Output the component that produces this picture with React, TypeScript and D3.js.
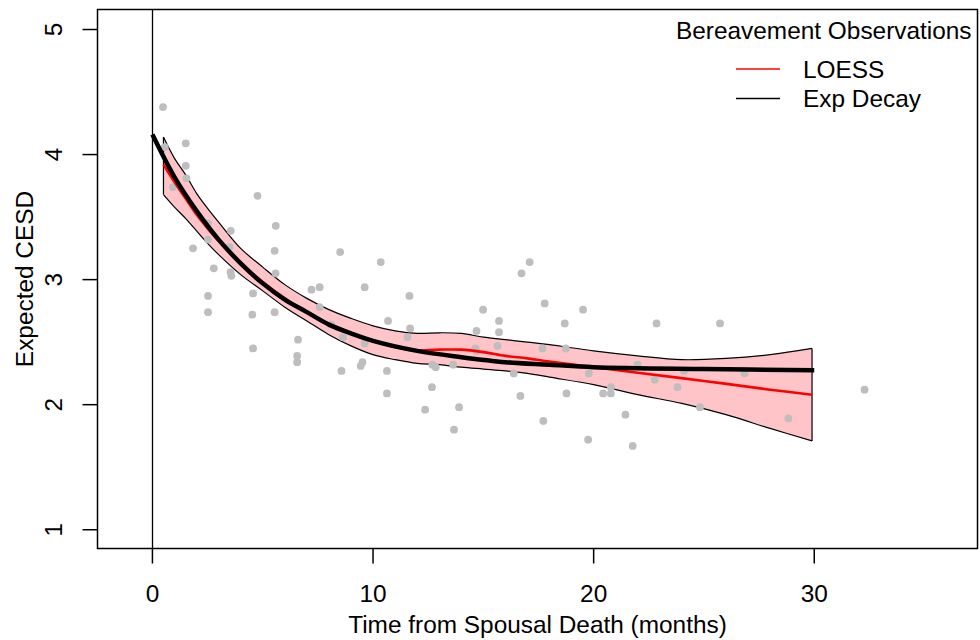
import React from "react";
import * as d3 from "d3";

// Observations (months since spousal death, CESD)
const obsTime = [
  0.48, 1.51, 1.51, 1.54, 0.93, 4.76, 5.59, 2.52, 2.52, 3.55, 3.5, 1.84, 5.54, 2.78, 3.54, 3.58, 5.58, 4.56,
  2.52, 2.52, 4.53, 5.54, 7.21, 7.58, 7.58, 6.6, 4.56, 6.56, 6.56, 8.51, 10.35, 9.62, 11.65, 16.73, 17.1,
  14.99, 15.71, 15.71, 10.68, 11.68, 11.56, 14.69, 17.78, 8.64, 9.62, 14.64, 14.69, 15.64, 17.68, 9.52, 9.44,
  8.57, 10.63, 12.69, 12.84, 13.63, 16.38, 10.63, 12.67, 16.68, 12.36, 13.9, 13.67, 17.72, 19.52, 18.69,
  22.85, 25.73, 18.74, 21.99, 19.78, 18.77, 20.43, 20.78, 20.78, 22.77, 24.1, 23.8, 26.84, 24.82, 21.44,
  19.75, 21.77, 28.83, 32.28, 8.11, 0.56,
];
const obsCesd = [
  4.38, 4.09, 3.91, 3.81, 3.74, 3.67, 3.43, 3.45, 3.32, 3.39, 3.26, 3.25, 3.23, 3.09, 3.06, 3.03, 3.05, 2.89,
  2.87, 2.74, 2.72, 2.74, 2.92, 2.94, 2.78, 2.52, 2.45, 2.39, 2.34, 3.22, 3.14, 2.94, 2.87, 3.05, 3.14,
  2.76, 2.67, 2.58, 2.67, 2.61, 2.54, 2.59, 2.81, 2.54, 2.49, 2.45, 2.43, 2.47, 2.45, 2.34, 2.31,
  2.27, 2.27, 2.32, 2.3, 2.32, 2.25, 2.09, 2.14, 2.07, 1.96, 1.98, 1.8, 1.87, 2.76, 2.65,
  2.65, 2.65, 2.45, 2.32, 2.25, 2.09, 2.09, 2.09, 2.14, 2.2, 2.27, 2.14, 2.25, 1.98, 1.92,
  1.72, 1.67, 1.89, 2.12, 2.64, 4.06,
];

// LOESS fit and its confidence band
const loessTime = [0.5, 1, 1.5, 2, 2.5, 3, 4, 5, 6, 7, 8, 9, 10, 11, 12, 13, 14, 15, 16, 17, 18, 20, 22, 25, 28, 29.9];
const loessFit = [3.92, 3.78, 3.65, 3.52, 3.41, 3.31, 3.13, 2.98, 2.85, 2.74, 2.645, 2.57, 2.51, 2.46, 2.435, 2.44, 2.44, 2.42, 2.39, 2.37, 2.345, 2.3, 2.255, 2.19, 2.12, 2.08];
const bandTime = [0.5, 1, 1.5, 2, 2.5, 3, 4, 5, 6, 7, 8, 9, 10, 11, 12, 13, 14, 15, 16, 17, 18, 20, 22, 24, 26, 28, 29.9];
const bandUpper = [4.14, 3.97, 3.84, 3.69, 3.57, 3.46, 3.25, 3.1, 2.96, 2.85, 2.76, 2.69, 2.63, 2.59, 2.57, 2.575, 2.57, 2.54, 2.52, 2.5, 2.48, 2.43, 2.39, 2.36, 2.37, 2.4, 2.45];
const bandLower = [3.68, 3.58, 3.49, 3.39, 3.29, 3.2, 3.04, 2.91, 2.78, 2.67, 2.56, 2.47, 2.4, 2.36, 2.33, 2.32, 2.3, 2.285, 2.27, 2.25, 2.22, 2.16, 2.08, 2.01, 1.92, 1.81, 1.71];

// Exponential decay fit
const expTime = [0, 1, 2, 3, 4, 5, 6, 7, 8, 9, 10, 12, 14, 16, 18, 20, 25, 30];
const expFit = [4.16, 3.82, 3.55, 3.32, 3.13, 2.97, 2.84, 2.74, 2.64, 2.57, 2.51, 2.43, 2.38, 2.34, 2.32, 2.3, 2.285, 2.276];

const xTicks = [0, 10, 20, 30];
const yTicks = [1, 2, 3, 4, 5];
const legendTitle = "Bereavement Observations";
const legendItems = ["LOESS", "Exp Decay"];
const legendColors = ["#ff0000", "#000000"];

const W = 980;
const H = 640;
const L = 97.5, R = 977.5, T = 9.5, B = 548.5;
const FONT = "'Liberation Sans', Arial, Helvetica, sans-serif";
const FS = 24.4;

export default function App() {
  const x = d3.scaleLinear().domain([-2.49, 37.4]).range([L, R]);
  const y = d3.scaleLinear().domain([0.85, 5.16]).range([B, T]);

  const line = d3
    .line<[number, number]>()
    .x((d) => x(d[0]))
    .y((d) => y(d[1]))
    .curve(d3.curveCatmullRom.alpha(0.5));

  const area = d3
    .area<number>()
    .x((_, i) => x(bandTime[i]))
    .y0((_, i) => y(bandLower[i]))
    .y1((_, i) => y(bandUpper[i]))
    .curve(d3.curveCatmullRom.alpha(0.5));

  const upperPts: [number, number][] = bandTime.map((t, i) => [t, bandUpper[i]]);
  const lowerPts: [number, number][] = bandTime.map((t, i) => [t, bandLower[i]]);
  const loessPts: [number, number][] = loessTime.map((t, i) => [t, loessFit[i]]);
  const expPts: [number, number][] = expTime.map((t, i) => [t, expFit[i]]);

  const lastT = bandTime[bandTime.length - 1];
  const firstT = bandTime[0];

  return (
    <svg width={W} height={H} style={{ display: "block", position: "absolute", left: 0, top: 0 }} fontFamily={FONT}>
      <rect x={0} y={0} width={W} height={H} fill="#ffffff" />
      <defs>
        <clipPath id="plotclip">
          <rect x={L} y={T} width={R - L} height={B - T} />
        </clipPath>
      </defs>
      <g clipPath="url(#plotclip)">
        {/* vertical reference line at 0 */}
        <line x1={Math.round(x(0)) + 0.5} x2={Math.round(x(0)) + 0.5} y1={T} y2={B} stroke="#000" strokeWidth={1.3} />
        {/* confidence band */}
        <path d={area(bandTime) || ""} fill="#ffc4c8" stroke="none" />
        <path d={line(upperPts) || ""} fill="none" stroke="#000" strokeWidth={1.2} />
        <path d={line(lowerPts) || ""} fill="none" stroke="#000" strokeWidth={1.2} />
        <line x1={x(firstT)} x2={x(firstT)} y1={y(bandUpper[0])} y2={y(bandLower[0])} stroke="#000" strokeWidth={1.2} />
        <line
          x1={x(lastT)}
          x2={x(lastT)}
          y1={y(bandUpper[bandUpper.length - 1])}
          y2={y(bandLower[bandLower.length - 1])}
          stroke="#000"
          strokeWidth={1.2}
        />
        {/* observations */}
        {obsTime.map((t, i) => (
          <circle key={i} cx={x(t)} cy={y(obsCesd[i])} r={3.9} fill="#bebebe" />
        ))}
        {/* fits */}
        <path d={line(loessPts) || ""} fill="none" stroke="#ff0000" strokeWidth={2.6} />
        <path d={line(expPts) || ""} fill="none" stroke="#000" strokeWidth={4.5} />
      </g>

      {/* box */}
      <rect x={L} y={T} width={R - L} height={B - T} fill="none" stroke="#000" strokeWidth={1.5} />

      {/* x axis */}
      {xTicks.map((t) => (
        <g key={t}>
          <line x1={x(t)} x2={x(t)} y1={B} y2={B + 15} stroke="#000" strokeWidth={1.5} />
          <text x={x(t)} y={601.5} textAnchor="middle" fontSize={FS} fill="#000">
            {t}
          </text>
        </g>
      ))}
      <text x={(L + R) / 2} y={632.5} textAnchor="middle" fontSize={FS} fill="#000">
        Time from Spousal Death (months)
      </text>

      {/* y axis */}
      {yTicks.map((v) => (
        <g key={v}>
          <line x1={L - 15} x2={L} y1={y(v)} y2={y(v)} stroke="#000" strokeWidth={1.5} />
          <text transform={`translate(62,${y(v)}) rotate(-90)`} textAnchor="middle" fontSize={FS} fill="#000">
            {v}
          </text>
        </g>
      ))}
      <text transform={`translate(33,${(T + B) / 2}) rotate(-90)`} textAnchor="middle" fontSize={FS} fill="#000">
        Expected CESD
      </text>

      {/* legend */}
      <text x={676} y={39} fontSize={FS} fill="#000">
        {legendTitle}
      </text>
      {legendItems.map((name, i) => (
        <g key={name}>
          <line x1={736} x2={780} y1={69 + i * 29.5} y2={69 + i * 29.5} stroke={legendColors[i]} strokeWidth={1.5} />
          <text x={803} y={77.5 + i * 29.5} fontSize={FS} fill="#000">
            {name}
          </text>
        </g>
      ))}
    </svg>
  );
}
